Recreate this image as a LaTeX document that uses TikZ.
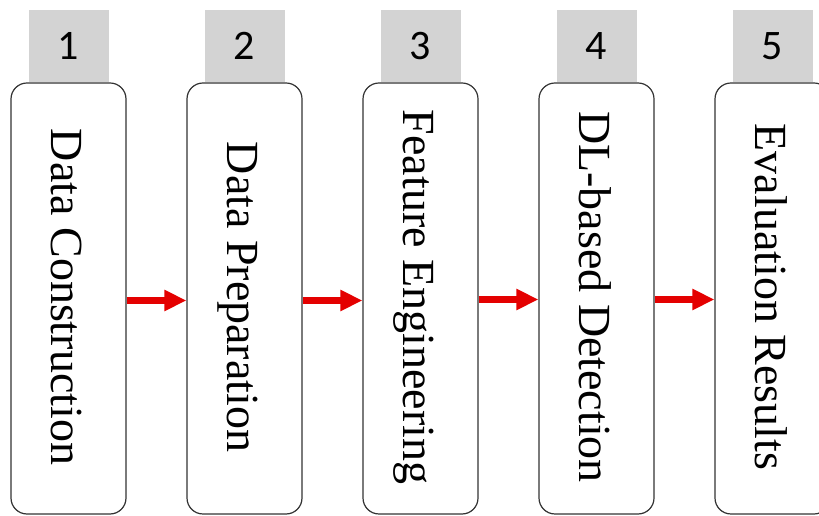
\documentclass[tikz,border=0pt]{standalone}
\usepackage{fontspec}
\setmainfont{Liberation Serif}
\newfontfamily\numfont{Carlito}
\usetikzlibrary{arrows.meta,positioning}
\definecolor{tabgray}{RGB}{211,211,211}
\definecolor{flowred}{RGB}{228,0,0}

\begin{document}
\begin{tikzpicture}[x=1pt,y=1pt,node distance=176pt,on grid,
	stage/.style={draw=black!80,line width=1.2pt,rounded corners=16pt,minimum width=115pt,minimum height=431pt,inner sep=0pt},
	tab/.style={fill=tabgray,minimum width=80pt,minimum height=72pt,inner sep=0pt,font=\numfont\fontsize{42}{44}\selectfont},
	steptext/.style={rotate=-90,anchor=base,inner sep=0pt,font=\fontsize{46}{50}\selectfont},
	flow/.style={-{Triangle[length=22pt,width=20pt]},draw=flowred,line width=7pt}]
	\useasboundingbox (0,0) rectangle (819,516);
	\node[stage]          (B1) at (68.5,217.5)   {};
	\node[stage]          (B2) [right =of B1]    {};
	\node[stage]          (B3) [right =of B2]    {};
	\node[stage]          (B4) [right =of B3]    {};
	\node[stage]          (B5) [right =of B4]    {};
	\node[tab,anchor=south] (T1) at (B1.north) {1};
	\node[tab,anchor=south] (T2) at (B2.north) {2};
	\node[tab,anchor=south] (T3) at (B3.north) {3};
	\node[tab,anchor=south] (T4) at (B4.north) {4};
	\node[tab,anchor=south] (T5) at (B5.north) {5};
	\node[steptext] (L1) at ([xshift=-17.5pt,yshift=1.5pt]B1.center) {Data Construction};
	\node[steptext] (L2) at ([xshift=-17.5pt,yshift=1.5pt]B2.center) {Data Preparation};
	\node[steptext] (L3) at ([xshift=-17.5pt,yshift=1.5pt]B3.center) {Feature Engineering};
	\node[steptext] (L4) at ([xshift=-17.5pt,yshift=1.5pt]B4.center) {DL-based Detection};
	\node[steptext] (L5) at ([xshift=-17.5pt,yshift=1.5pt]B5.center) {Evaluation Results};
	\draw[flow] ([yshift=-2pt]B1.east) -- ([yshift=-2pt]B2.west);
	\draw[flow] ([yshift=-2pt]B2.east) -- ([yshift=-2pt]B3.west);
	\draw[flow] ([yshift=-1pt]B3.east) -- ([yshift=-1pt]B4.west);
	\draw[flow] ([yshift=-1pt]B4.east) -- ([yshift=-1pt]B5.west);
\end{tikzpicture}
\end{document}
